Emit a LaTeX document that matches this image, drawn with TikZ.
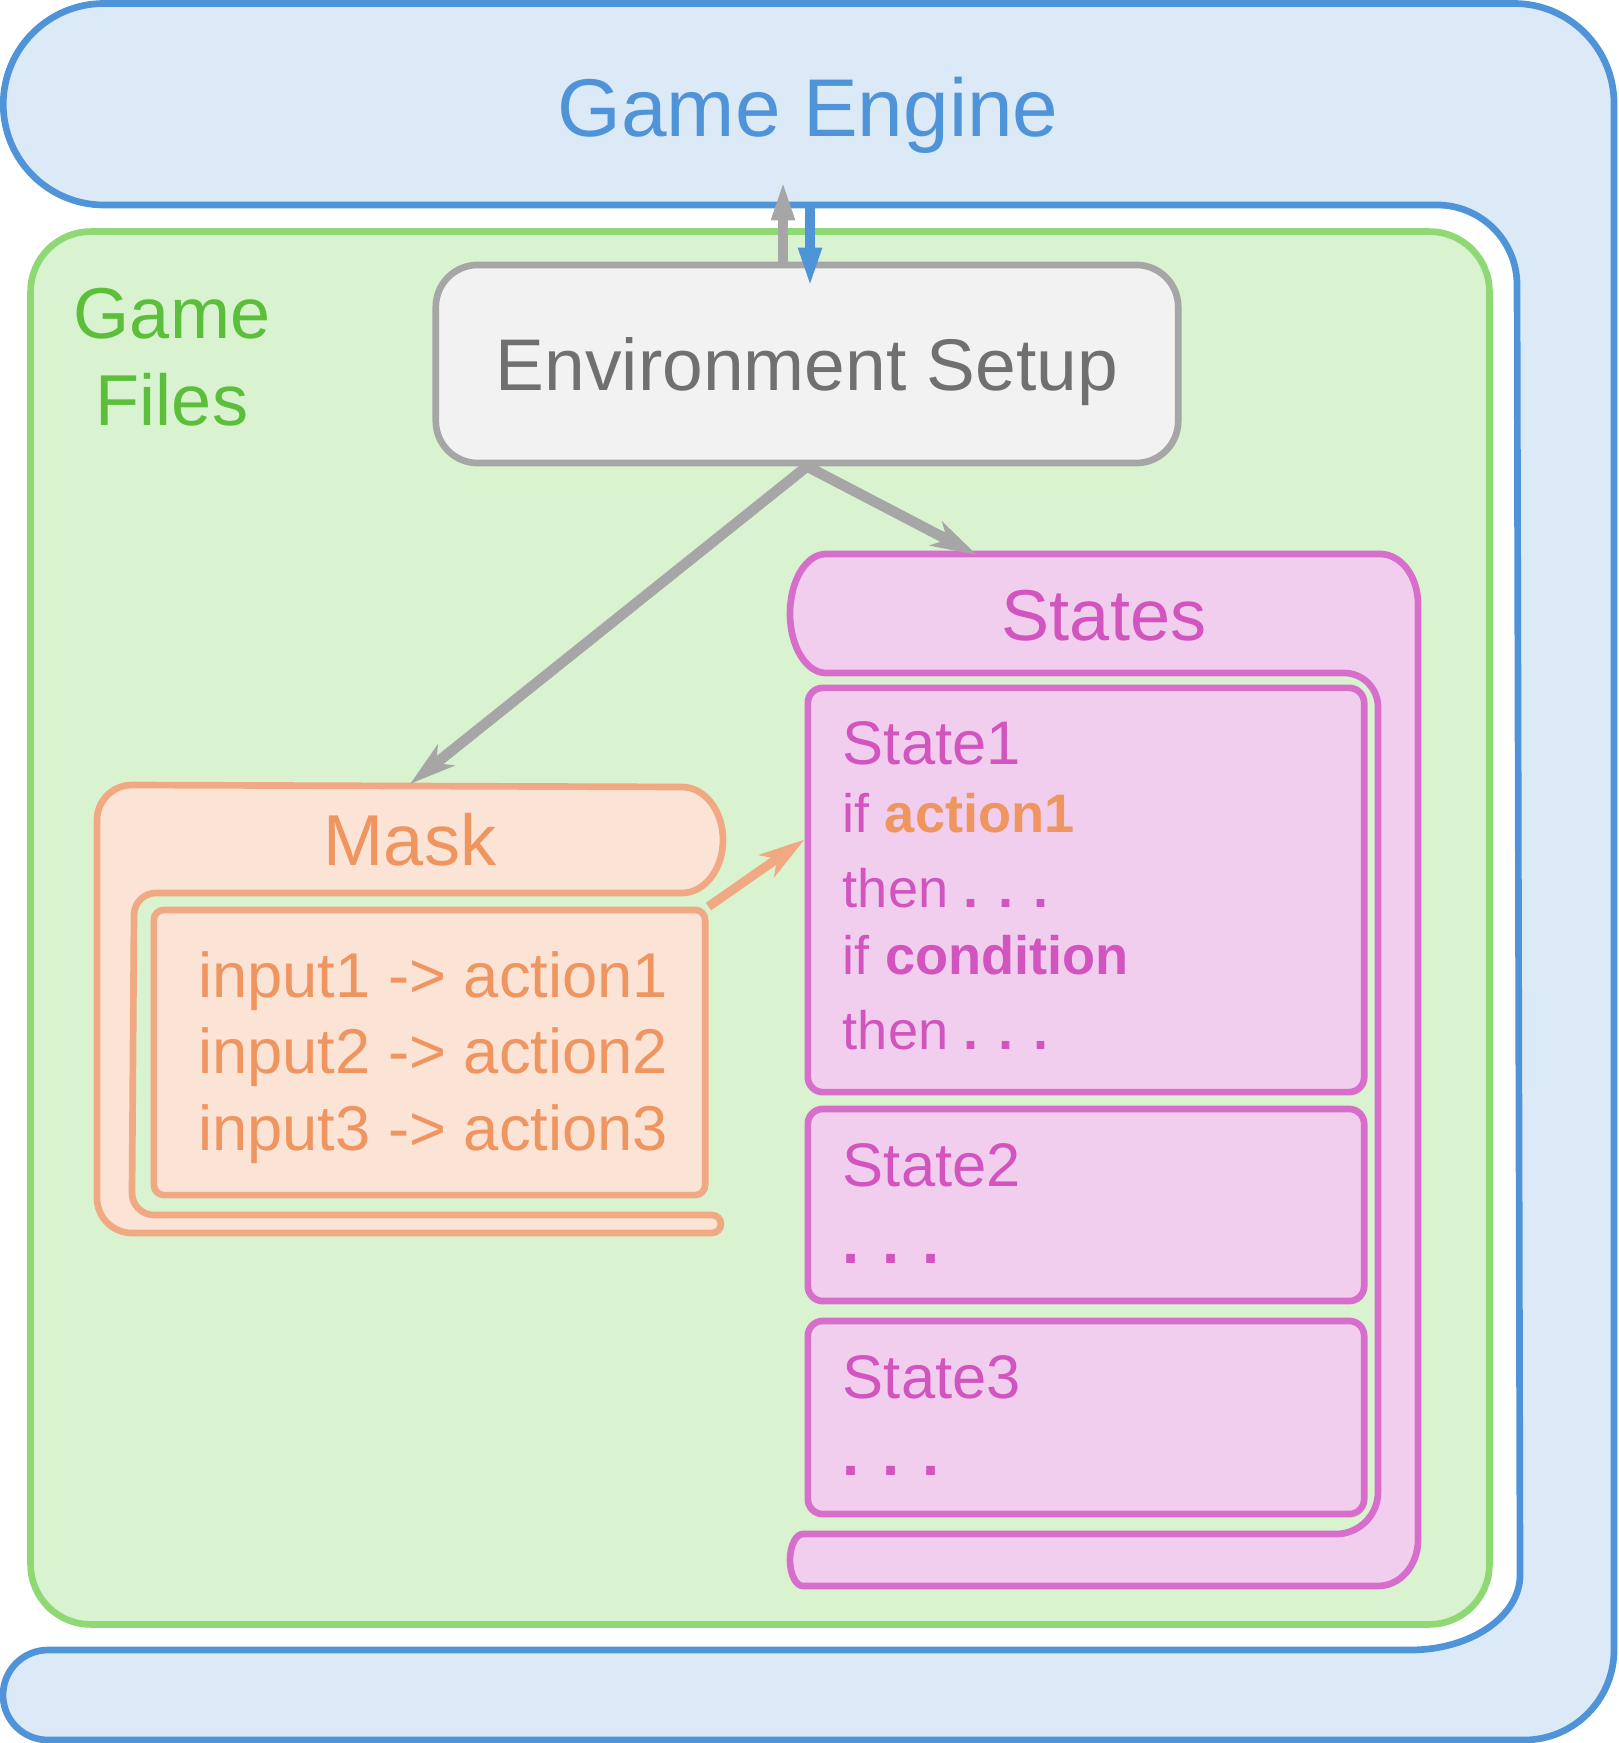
\documentclass[tikz,border=0pt]{standalone}
\usepackage{fontspec}
\setmainfont{Liberation Sans}
\usetikzlibrary{arrows.meta}
\usetikzlibrary{positioning, calc}
\definecolor{geblue}{HTML}{4F94D9}
\definecolor{gefill}{HTML}{DCE9F6}
\definecolor{gfgreen}{HTML}{8ED973}
\definecolor{gffill}{HTML}{D9F2D0}
\definecolor{gftext}{HTML}{5CBF3B}
\definecolor{envgray}{HTML}{A6A6A6}
\definecolor{envfill}{HTML}{F2F2F2}
\definecolor{envtext}{HTML}{707070}
\definecolor{mkline}{HTML}{F1A983}
\definecolor{mkfill}{HTML}{FBE3D6}
\definecolor{mktext}{HTML}{EE9560}
\definecolor{stline}{HTML}{D86ECC}
\definecolor{stfill}{HTML}{F2CEEE}
\definecolor{sttext}{HTML}{D154BF}

\begin{document}
\begin{tikzpicture}[
    x=0.01cm, y=-0.01cm,
    line width=1.9pt,
    shell/.style={draw=geblue, fill=gefill, line join=round},
    files/.style={draw=gfgreen, fill=gffill, rounded corners=0.6cm},
    setup/.style={draw=envgray, fill=envfill, rounded corners=0.42cm,
                  text=envtext, font=\fontsize{20.8}{24}\selectfont,
                  text depth=0pt},
    maskbox/.style={draw=mkline, fill=mkfill, line join=round},
    statesbox/.style={draw=stline, fill=stfill, line join=round},
    statebox/.style={draw=stline, fill=stfill, rounded corners=0.15cm,
                     minimum width=5.56cm},
    big/.style={font=\fontsize{20.5}{24}\selectfont, inner sep=0pt, anchor=base},
    rule/.style={text=mktext, font=\fontsize{18}{22}\selectfont,
                 inner sep=0pt, anchor=base west},
    sname/.style={text=sttext, font=\fontsize{17.5}{21}\selectfont,
                  inner sep=0pt, anchor=base west},
    sbody/.style={text=sttext, font=\fontsize{15.4}{19}\selectfont,
                  inner sep=0pt, anchor=base west},
    flow/.style={envgray, line width=3pt,
                 -{Stealth[length=13pt, width=7.5pt, inset=3.5pt]}},
    updown/.style={line width=2.8pt, -{Triangle[length=11.5pt, width=6pt]}},
  ]
  \useasboundingbox (0,0) rectangle (1618,1743);

  % ---- game engine shell ----
  \draw[shell] (104,3.5) -- (1514,3.5)
    arc[start angle=-90, end angle=0, radius=100] -- (1614,1650)
    arc[start angle=0, end angle=90, radius=90] -- (48,1740)
    arc[start angle=90, end angle=270, radius=45] -- (1410,1650)
    arc[start angle=90, end angle=0, x radius=110, y radius=75] -- (1517,285)
    arc[start angle=0, end angle=-90, radius=80] -- (104,205)
    arc[start angle=90, end angle=270, radius=100.75] -- cycle;
  \node[big, text=geblue, font=\fontsize{23.3}{28}\selectfont]
    (enginetitle) at (808,137) {Game Engine};

  % ---- game files ----
  \node[files, minimum width=14.58cm, minimum height=13.92cm]
    (gamefiles) at (760,928) {};
  \node[big, text=gftext] (filestitle) at (172,339) {Game};
  \node[big, text=gftext] (filestitle2) at (172,426) {Files};

  \node[setup, minimum width=7.42cm, minimum height=1.98cm]
    (envsetup) at (807,364) {Environment Setup};

  % ---- mask ----
  \draw[maskbox] (132,785) -- (682,787)
    arc[start angle=-90, end angle=90, x radius=41, y radius=53] -- (156,893)
    arc[start angle=270, end angle=180, radius=22] -- (132,1193)
    arc[start angle=180, end angle=90, radius=22] -- (712,1215)
    arc[start angle=-90, end angle=90, radius=9] -- (132,1233)
    arc[start angle=90, end angle=180, radius=35] -- (97,820)
    arc[start angle=180, end angle=270, radius=35] -- cycle;
  \node[big, text=mktext] (masktitle) at (410,865) {Mask};
  \node[maskbox, rounded corners=0.1cm, minimum width=5.51cm,
        minimum height=2.85cm] (maskrules) at (429.5,1052.5) {};
  \foreach \i in {1,2,3}
    \node[rule] (rule\i) at (195,{997+76.5*(\i-1)}) {input\i{} -> action\i};

  % ---- states ----
  \draw[statesbox] (826,554) -- (1380,554)
    arc[start angle=-90, end angle=0, x radius=38, y radius=50] -- (1418,1540)
    arc[start angle=0, end angle=90, x radius=40, y radius=46] -- (803,1586)
    arc[start angle=90, end angle=270, x radius=13, y radius=26] -- (1336,1534)
    arc[start angle=90, end angle=0, radius=42] -- (1378,707)
    arc[start angle=0, end angle=-90, radius=34] -- (826,673)
    arc[start angle=90, end angle=270, x radius=36, y radius=59.5] -- cycle;
  \node[big, text=sttext] (statestitle) at (1104,640) {States};

  \node[statebox, minimum height=4.04cm] (state1) at (1086,890) {};
  \node[statebox, minimum height=1.92cm] (state2) at (1086,1205) {};
  \node[statebox, minimum height=1.93cm] (state3) at (1086,1417.5) {};

  \node[sname] (s1name) at ($(state1.north west)+(35,80)$) {State1};
  \node[sbody] (s1if) at ($(state1.north west)+(35,148)$)
    {if \textcolor{mktext}{\textbf{action1}}};
  \node[sbody] (s1then) at ($(state1.north west)+(35,223)$) {then \textbf{. . .}};
  \node[sbody] (s1cond) at ($(state1.north west)+(35,290)$) {if \textbf{condition}};
  \node[sbody] (s1then2) at ($(state1.north west)+(35,365)$) {then \textbf{. . .}};
  \foreach \s in {2,3} {
    \node[sname] (s\s name) at ($(state\s.north west)+(35,81)$) {State\s};
    \node[sname] (s\s dots) at ($(state\s.north west)+(35,158)$) {\textbf{. . .}};
  }

  % ---- connectors ----
  \coordinate (engup) at (783,180);
  \coordinate (engdown) at (810,205);
  \coordinate (setupin) at (810,288);
  \coordinate (maskin) at (410,784);
  \coordinate (statesin) at (977,555);
  \draw[updown, envgray] (envsetup.north -| engup) -- (engup);
  \draw[updown, geblue] (engdown) -- (setupin);
  \draw[flow] (envsetup.south) -- (maskin);
  \draw[flow] (envsetup.south) -- (statesin);
  \draw[flow, mkline, line width=2.6pt] (maskrules.north east)
    -- ($(state1.north west)+(0,155)$);
\end{tikzpicture}
\end{document}
